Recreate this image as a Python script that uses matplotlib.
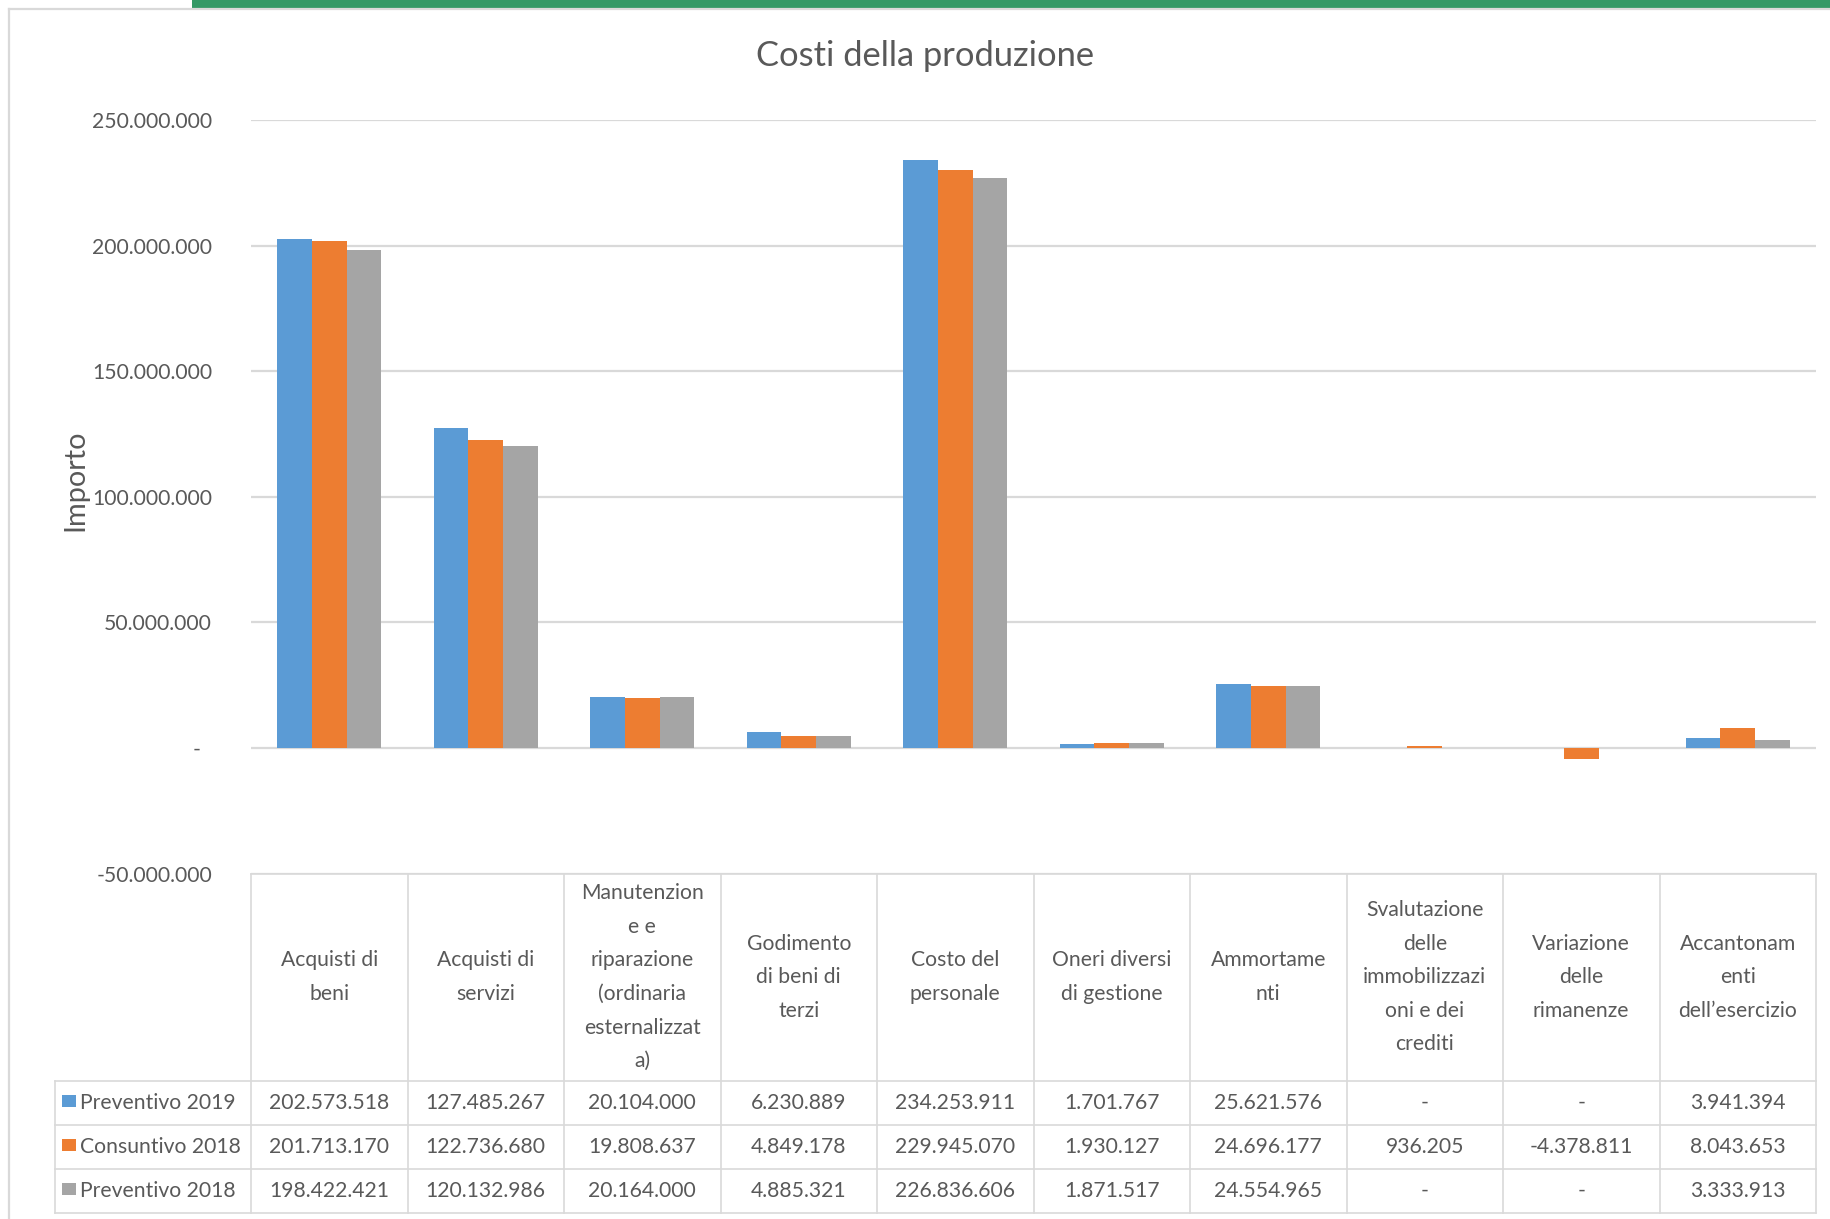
import numpy as np
import matplotlib
matplotlib.use("Agg")
import matplotlib.pyplot as plt
from matplotlib import transforms
from matplotlib.patches import Rectangle
from matplotlib.lines import Line2D
from matplotlib.textpath import TextPath
from matplotlib.font_manager import FontProperties

plt.rcParams['font.family'] = ['Lato', 'DejaVu Sans']

# ---------------- data ----------------
title = "Costi della produzione"
ylabel = "Importo"
categories = [
    "Acquisti di\nbeni",
    "Acquisti di\nservizi",
    "Manutenzion\ne e\nriparazione\n(ordinaria\nesternalizzat\na)",
    "Godimento\ndi beni di\nterzi",
    "Costo del\npersonale",
    "Oneri diversi\ndi gestione",
    "Ammortame\nnti",
    "Svalutazione\ndelle\nimmobilizzazi\noni e dei\ncrediti",
    "Variazione\ndelle\nrimanenze",
    "Accantonam\nenti\ndell\u2019esercizio",
]
series_names = ["Preventivo 2019", "Consuntivo 2018", "Preventivo 2018"]
preventivo_2019 = [202573518, 127485267, 20104000, 6230889, 234253911,
                   1701767, 25621576, None, None, 3941394]
consuntivo_2018 = [201713170, 122736680, 19808637, 4849178, 229945070,
                   1930127, 24696177, 936205, -4378811, 8043653]
preventivo_2018 = [198422421, 120132986, 20164000, 4885321, 226836606,
                   1871517, 24554965, None, None, 3333913]
yticks = [-50000000, 0, 50000000, 100000000, 150000000, 200000000, 250000000]

series = [preventivo_2019, consuntivo_2018, preventivo_2018]
colors = ["#5B9BD5", "#ED7D31", "#A5A5A5"]
text_color = "#595959"
grid_color = "#D9D9D9"

# ---------------- figure ----------------
W, H = 1830, 1219
fig = plt.figure(figsize=(W / 100, H / 100), dpi=100)
fig.patch.set_facecolor("white")


def fy(py):
    return 1 - py / H


def fx(px):
    return px / W


def fit_size(s, target_px):
    fp = FontProperties(family=['Lato', 'DejaVu Sans'])
    w = TextPath((0, 0), s, size=10, prop=fp).get_extents().width
    return 10 * target_px / (w * 100 / 72)


size_num = fit_size("250.000.000", 119)
size_title = fit_size(title, 335)
size_ylab = fit_size(ylabel, 98)

# plot area in pixel coords
left_px, right_px = 251, 1816
top_px, bot_px = 120, 873.5
ax = fig.add_axes([fx(left_px), fy(bot_px), fx(right_px - left_px),
                   (bot_px - top_px) / H])
ax.set_xlim(-0.5, len(categories) - 0.5)
ax.set_ylim(yticks[0], yticks[-1])
ax.set_axisbelow(True)
for sp in ax.spines.values():
    sp.set_visible(False)

x = np.arange(len(categories))
bw = 0.2213
for i, (vals, c, name) in enumerate(zip(series, colors, series_names)):
    h = np.array([np.nan if v is None else v for v in vals], dtype=float)
    ax.bar(x + (i - 1) * bw, h, width=bw, color=c, label=name, zorder=3,
           linewidth=0)

ax.set_yticks(yticks)
ax.yaxis.grid(True, color=grid_color, linewidth=1.6)
ax.xaxis.grid(False)
ax.set_xticks([])


def fmt(v):
    if v is None:
        return "-"
    if v == 0:
        return "-  "
    return f"{v:,.0f}".replace(",", ".")


ax.set_yticklabels([fmt(v) for v in yticks])
ax.tick_params(axis='y', length=0, pad=28, labelsize=size_num,
               labelcolor=text_color)

ax.set_ylabel(ylabel, fontsize=size_ylab, color=text_color)
ax.yaxis.set_label_coords((88 - left_px) / (right_px - left_px),
                          (bot_px - 480) / (bot_px - top_px))

fig.text(fx(925.5), fy(66), title, ha='center', va='baseline',
         fontsize=size_title, color=text_color)

# ---------------- data table ----------------
bt = transforms.blended_transform_factory(ax.transData, fig.transFigure)
lc = grid_color
lw = 1.2
tbl_top, hdr_bot = 873.5, 1081
row_lines = [1081, 1125, 1169, 1213]
leg_left = 55

# horizontal lines
fig.add_artist(Line2D([fx(left_px), fx(right_px)], [fy(tbl_top)] * 2,
                      color=lc, lw=lw))
for yl in row_lines:
    fig.add_artist(Line2D([fx(leg_left), fx(right_px)], [fy(yl)] * 2,
                          color=lc, lw=lw))
# vertical lines
for k in range(len(categories) + 1):
    fig.add_artist(Line2D([k - 0.5, k - 0.5], [fy(tbl_top), fy(row_lines[-1])],
                          color=lc, lw=lw, transform=bt))
fig.add_artist(Line2D([fx(leg_left)] * 2, [fy(row_lines[0]), fy(row_lines[-1])],
                      color=lc, lw=lw))

# header text
hdr_center = (tbl_top + hdr_bot) / 2
line_gap = 33.6
for k, cat in enumerate(categories):
    lines = cat.split("\n")
    n = len(lines)
    for j, ln in enumerate(lines):
        yc = hdr_center + (j - (n - 1) / 2) * line_gap
        fig.text(k, fy(yc), ln, ha='center', va='center', fontsize=size_num,
                 color=text_color, transform=bt)

# rows
cap = 0.72 * size_num * 100 / 72
for r, (vals, c, name) in enumerate(zip(series, colors, series_names)):
    yc = (row_lines[r] + row_lines[r + 1]) / 2 - 2
    base = yc + cap / 2
    fig.add_artist(Rectangle((fx(62), fy(yc + 6)), fx(14), 12 / H,
                             facecolor=c, edgecolor='none'))
    fig.text(fx(80), fy(base), name, ha='left', va='baseline',
             fontsize=size_num, color=text_color)
    for k, v in enumerate(vals):
        fig.text(k, fy(base), fmt(v), ha='center', va='baseline',
                 fontsize=size_num, color=text_color, transform=bt)

# ---------------- spreadsheet frame ----------------
fig.add_artist(Rectangle((fx(192), fy(8)), fx(W - 192), 8 / H,
                         facecolor="#339966", edgecolor='none'))
fig.add_artist(Line2D([fx(9), 1], [fy(9), fy(9)], color=grid_color, lw=1.6))
fig.add_artist(Line2D([fx(9), fx(9)], [fy(9), 0], color=grid_color, lw=1.6))

fig.savefig("out.png", dpi=100, facecolor="white")
